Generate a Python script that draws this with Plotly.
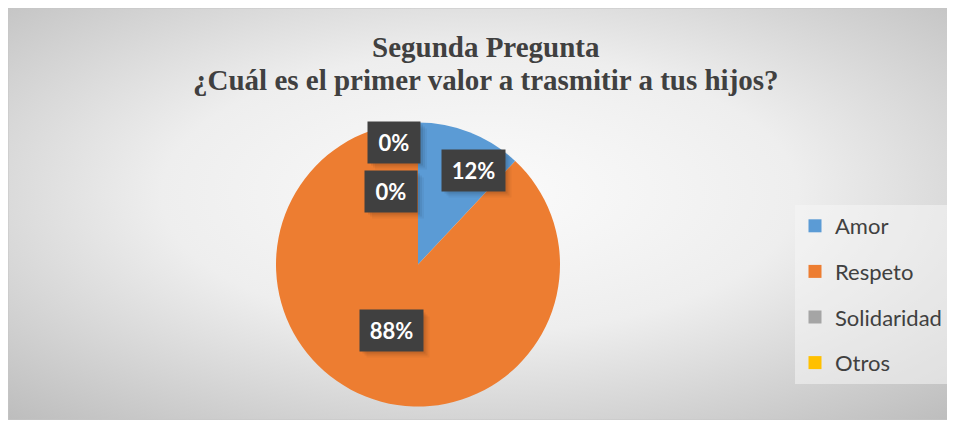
import base64
import plotly.graph_objects as go

# the page body keeps the browser's 8px margin, so the figure is the chart frame only
OFF = 8
W, H = 943, 412

# data
categorias = ["Amor", "Respeto", "Solidaridad", "Otros"]
porcentajes = [12, 88, 0, 0]
colores = ["#5B9BD5", "#ED7D31", "#A5A5A5", "#FFC000"]
titulo_1 = "Segunda Pregunta"
titulo_2 = "¿Cuál es el primer valor a trasmitir a tus hijos?"


def px_x(x):
    return (x - OFF) / W


def px_y(y):
    return 1 - (y - OFF) / H


# radial gradient background like the Excel chart area
svg = (
    f'<svg xmlns="http://www.w3.org/2000/svg" width="{W}" height="{H}">'
    '<defs><radialGradient id="g" cx="50%" cy="45%" r="75%">'
    '<stop offset="0" stop-color="#fbfbfb"/>'
    '<stop offset="0.45" stop-color="#eeeeee"/>'
    '<stop offset="1" stop-color="#bcbcbc"/>'
    '</radialGradient></defs>'
    f'<rect width="{W}" height="{H}" fill="url(#g)"/></svg>'
)
bg_src = "data:image/svg+xml;base64," + base64.b64encode(svg.encode()).decode()

fig = go.Figure()

fig.add_trace(go.Pie(
    labels=categorias,
    values=porcentajes,
    marker=dict(colors=colores, line=dict(width=0)),
    sort=False,
    direction="clockwise",
    rotation=0,
    textinfo="none",
    hoverinfo="label+percent",
    showlegend=False,
    domain=dict(x=[px_x(276), px_x(560)], y=[px_y(407), px_y(122)]),
))

# legend entries (scatter dummies so the row spacing can be controlled)
for cat, col in zip(categorias, colores):
    fig.add_trace(go.Scatter(
        x=[None], y=[None], mode="markers", name=cat, legendgroup=cat,
        marker=dict(symbol="square", size=13, color=col),
    ))

annotations = [
    dict(x=px_x(486), y=px_y(47), xref="paper", yref="paper", showarrow=False,
         text=f"<b>{titulo_1}</b>", xanchor="center", yanchor="middle",
         font=dict(family="Liberation Serif", size=29, color="#404040")),
    dict(x=px_x(486), y=px_y(80), xref="paper", yref="paper", showarrow=False,
         text=f"<b>{titulo_2}</b>", xanchor="center", yanchor="middle",
         font=dict(family="Liberation Serif", size=29, color="#404040")),
]
shapes = [dict(
    type="rect", xref="paper", yref="paper", x0=0, x1=1, y0=0, y1=1,
    line=dict(color="#c6c6c6", width=1), layer="below",
)]

# data labels: dark boxes with white percentages (+ soft drop shadow)
label_pos = [(473, 170), (391, 330), (391, 191), (394, 142)]
for (x, y), val in zip(label_pos, porcentajes):
    txt = f"{val}%"
    bw = 52 if len(txt) < 3 else 63
    bh = 41
    for d, a in ((7, 0.04), (5, 0.06), (3, 0.08)):
        shapes.append(dict(
            type="rect", xref="paper", yref="paper", layer="above",
            x0=px_x(x - bw / 2 + d), x1=px_x(x + bw / 2 + d),
            y0=px_y(y + bh / 2 + d), y1=px_y(y - bh / 2 + d),
            fillcolor=f"rgba(0,0,0,{a})", line=dict(width=0),
        ))
    annotations.append(dict(
        x=px_x(x), y=px_y(y), xref="paper", yref="paper",
        xanchor="center", yanchor="middle",
        text=f"<b>{txt}</b>", showarrow=False,
        width=bw, height=bh, borderpad=0, align="center", valign="middle",
        font=dict(family="Lato", size=22, color="white"),
        bgcolor="#404040",
    ))

fig.update_layout(
    width=W, height=H,
    margin=dict(l=0, r=0, t=0, b=0),
    paper_bgcolor="white",
    plot_bgcolor="rgba(0,0,0,0)",
    xaxis=dict(visible=False),
    yaxis=dict(visible=False),
    legend=dict(
        x=px_x(795), y=px_y(205), xanchor="left", yanchor="top",
        bgcolor="rgba(245,245,245,0.55)",
        font=dict(family="Lato", size=22, color="#404040"),
        tracegroupgap=14,
        itemwidth=30,
    ),
    annotations=annotations,
    shapes=shapes,
    images=[dict(
        source=bg_src, xref="paper", yref="paper",
        x=0, y=1, sizex=1, sizey=1,
        xanchor="left", yanchor="top", sizing="stretch", layer="below",
    )],
)

fig.write_html("out.html")
